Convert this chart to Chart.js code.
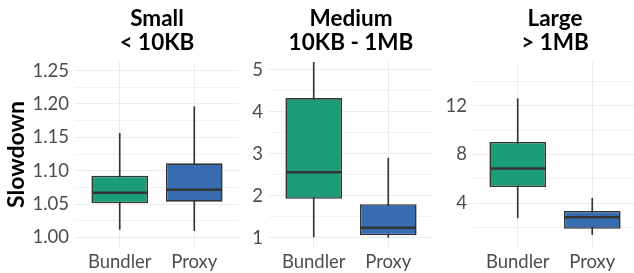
<!DOCTYPE html>
<html>
<head>
<meta charset="utf-8">
<script src="https://cdn.jsdelivr.net/npm/chart.js@4.4.1/dist/chart.umd.min.js"></script>
<style>
  body { margin: 0; background: #fff; overflow: hidden; }
  #wrap { position: relative; width: 634px; height: 273px; overflow: hidden; }
  canvas { position: absolute; top: 0; }
</style>
</head>
<body>
<div id="wrap">
  <canvas id="c-small" width="239" height="273" style="left:0"></canvas>
  <canvas id="c-medium" width="194" height="273" style="left:239px"></canvas>
  <canvas id="c-large" width="204" height="273" style="left:433px"></canvas>
</div>
<script>
// box plot data
const categories = ['Bundler', 'Proxy'];
const boxColors = ['#1b9e77', '#386cb0'];

const smallTitle = ['Small', '< 10KB'];
const smallLow = [1.012, 1.010];
const smallQ1 = [1.051, 1.0535];
const smallMedian = [1.067, 1.0715];
const smallQ3 = [1.0925, 1.111];
const smallHigh = [1.156, 1.196];
const smallTicks = [1.00, 1.05, 1.10, 1.15, 1.20, 1.25];

const mediumTitle = ['Medium', '10KB - 1MB'];
const mediumLow = [1.02, 1.01];
const mediumQ1 = [1.93, 1.06];
const mediumMedian = [2.56, 1.24];
const mediumQ3 = [4.33, 1.80];
const mediumHigh = [5.19, 2.90];
const mediumTicks = [1, 2, 3, 4, 5];

const largeTitle = ['Large', '> 1MB'];
const largeLow = [2.80, 1.42];
const largeQ1 = [5.32, 1.90];
const largeMedian = [6.85, 2.85];
const largeQ3 = [9.03, 3.36];
const largeHigh = [12.58, 4.41];
const largeTicks = [4, 8, 12];

const tickFont = { family: 'Lato', size: 18.5 };
const labelFont = { family: 'Lato', size: 18.5 };

// majors plus the minor lines half way between them
function gridValues(ticks, min, max) {
    const step = ticks[1] - ticks[0];
    const vals = [];
    for (let i = -1; i <= ticks.length; i++) {
        const major = ticks[0] + i * step;
        const minor = major + step / 2;
        if (i >= 0 && i < ticks.length) vals.push(ticks[i]);
        if (minor > min && minor < max) vals.push(minor);
    }
    if (ticks[0] - step / 2 > min) vals.push(ticks[0] - step / 2);
    return vals.sort((a, b) => a - b);
}

function makePanel(id, title, low, q1, median, q3, high, ticks, decimals, yMin, yMax, axisWidth, showTitle) {
    const medianLines = {
        id: 'medianLines',
        afterDatasetsDraw(chart) {
            const meta = chart.getDatasetMeta(1);
            const ctx = chart.ctx;
            ctx.save();
            ctx.strokeStyle = '#333333';
            ctx.lineWidth = 2.5;
            meta.data.forEach((bar, i) => {
                const y = chart.scales.y.getPixelForValue(median[i]);
                ctx.beginPath();
                ctx.moveTo(bar.x - bar.width / 2 + 1, y);
                ctx.lineTo(bar.x + bar.width / 2 - 1, y);
                ctx.stroke();
            });
            ctx.restore();
        }
    };

    return new Chart(document.getElementById(id), {
        type: 'bar',
        data: {
            datasets: [
                {
                    label: 'whisker',
                    data: categories.map((c, i) => ({ x: i + 1, y: [low[i], high[i]] })),
                    backgroundColor: '#333333',
                    barThickness: 1,
                    grouped: false,
                    order: 2
                },
                {
                    label: 'box',
                    data: categories.map((c, i) => ({ x: i + 1, y: [q1[i], q3[i]] })),
                    backgroundColor: boxColors,
                    borderColor: '#333333',
                    borderWidth: 1.6,
                    borderSkipped: false,
                    barPercentage: 0.76,
                    categoryPercentage: 1,
                    grouped: false,
                    order: 1
                }
            ]
        },
        options: {
            responsive: false,
            animation: false,
            layout: { padding: 0 },
            plugins: {
                legend: { display: false },
                tooltip: { enabled: false },
                title: {
                    display: true,
                    text: title,
                    fullSize: false,
                    color: '#000000',
                    font: { family: 'Lato', size: 22.5, weight: 'bold', lineHeight: '24px' },
                    padding: { top: 7, bottom: 7 }
                }
            },
            scales: {
                x: {
                    type: 'linear',
                    min: 0.4,
                    max: 2.6,
                    offset: false,
                    afterFit(scale) { scale.height = 26; },
                    afterBuildTicks(scale) { scale.ticks = categories.map((c, i) => ({ value: i + 1 })); },
                    ticks: {
                        callback: v => categories[v - 1],
                        autoSkip: false,
                        maxRotation: 0,
                        padding: 4,
                        color: '#4d4d4d',
                        font: labelFont
                    },
                    grid: { color: '#ebebeb', drawTicks: false, offset: false },
                    border: { display: false }
                },
                y: {
                    min: yMin,
                    max: yMax,
                    afterFit(scale) { scale.width = axisWidth; },
                    afterBuildTicks(scale) {
                        scale.ticks = gridValues(ticks, yMin, yMax).map(v => ({ value: v }));
                    },
                    ticks: {
                        callback: v => ticks.includes(v) ? v.toFixed(decimals) : '',
                        autoSkip: false,
                        padding: 6,
                        color: '#4d4d4d',
                        font: tickFont
                    },
                    grid: {
                        color: c => ticks.includes(c.tick.value) ? '#ebebeb' : '#f2f2f2',
                        drawTicks: false
                    },
                    border: { display: false },
                    title: {
                        display: showTitle,
                        text: 'Slowdown',
                        color: '#000000',
                        font: { family: 'Lato', size: 23, weight: 'bold' },
                        padding: { top: 3, bottom: 0 }
                    }
                }
            }
        },
        plugins: [medianLines]
    });
}

makePanel('c-small', smallTitle, smallLow, smallQ1, smallMedian, smallQ3, smallHigh,
    smallTicks, 2, 0.9855, 1.263, 75, true);
makePanel('c-medium', mediumTitle, mediumLow, mediumQ1, mediumMedian, mediumQ3, mediumHigh,
    mediumTicks, 0, 0.78, 5.19, 30, false);
makePanel('c-large', largeTitle, largeLow, largeQ1, largeMedian, largeQ3, largeHigh,
    largeTicks, 0, 0.4, 15.6, 40, false);
</script>
</body>
</html>
